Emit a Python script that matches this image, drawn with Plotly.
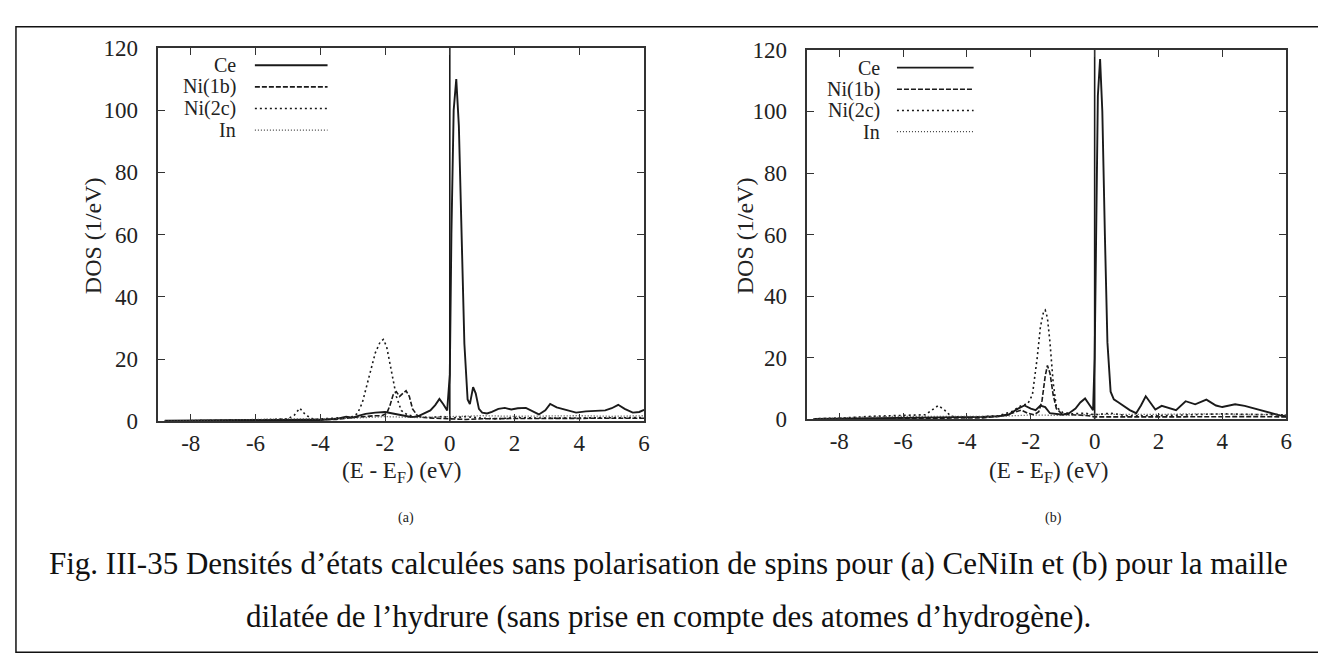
import plotly.graph_objects as go

W, H = 1326, 664

# ---------------- data: panel (a) CeNiIn ----------------
ce_a_E = [-8.8, -8, -7, -6, -5, -4.5, -4, -3.5, -3.2, -3.0, -2.8, -2.6, -2.3, -2.0, -1.8, -1.5,
          -1.2, -1.0, -0.8, -0.6, -0.45, -0.32, -0.2, -0.08, 0.0, 0.05, 0.12, 0.2, 0.28, 0.36,
          0.45, 0.55, 0.62, 0.72, 0.8, 0.9, 1.0, 1.15, 1.3, 1.5, 1.7, 1.9, 2.1, 2.35, 2.55,
          2.75, 2.95, 3.1, 3.3, 3.6, 3.9, 4.2, 4.5, 4.8, 5.0, 5.2, 5.4, 5.65, 5.85, 6.0]
ce_a_D = [0.2, 0.3, 0.4, 0.4, 0.5, 0.5, 0.4, 0.8, 1.5, 1.2, 1.8, 2.4, 2.8, 3.0, 2.6, 2.0,
          1.4, 1.5, 2.4, 3.5, 5.2, 7.2, 5.5, 3.5, 15, 60, 100, 110, 95, 60,
          25, 7, 5.5, 11, 9, 4, 2.8, 2.5, 3.0, 4.0, 4.3, 3.8, 4.2, 4.3, 3.2,
          2.2, 3.5, 5.6, 4.5, 3.7, 2.8, 3.2, 3.3, 3.5, 4.2, 5.3, 4.0, 2.8, 3.0, 3.7]

ni1b_a_E = [-8.8, -7, -5, -4, -3.5, -3.0, -2.7, -2.5, -2.3, -2.1, -1.95, -1.85, -1.75, -1.65,
            -1.55, -1.45, -1.35, -1.25, -1.15, -1.0, -0.8, -0.5, -0.2, 0, 0.5, 1, 2, 3, 4, 5, 6]
ni1b_a_D = [0.1, 0.2, 0.3, 0.4, 0.6, 1.2, 1.5, 1.6, 1.8, 1.8, 2.5, 5, 8.5, 9.5,
            8, 9, 9.8, 8, 4, 1.8, 1.2, 1.0, 1.0, 0.8, 0.6, 0.8, 0.9, 0.9, 0.9, 0.9, 1.0]

ni2c_a_E = [-8.8, -7, -6, -5.0, -4.8, -4.63, -4.45, -4.2, -3.8, -3.3, -3.0, -2.85, -2.7, -2.5,
            -2.3, -2.15, -2.05, -1.95, -1.8, -1.65, -1.5, -1.3, -1.0, -0.6, -0.2, 0, 0.5, 1,
            1.5, 2, 3, 4, 5, 6]
ni2c_a_D = [0.1, 0.3, 0.4, 0.8, 2.0, 4.2, 2.0, 0.6, 0.8, 1.2, 1.5, 2.5, 6, 14,
            22, 25.5, 26.3, 24, 16, 8, 3.5, 2.0, 1.5, 1.2, 1.6, 1.0, 1.5, 1.0,
            0.8, 1.2, 1.0, 1.1, 1.0, 1.2]

in_a_E = [-8.8, -8, -7, -6, -5, -4, -3, -2, -1, 0, 1, 2, 3, 4, 5, 6]
in_a_D = [0.1, 0.3, 0.5, 0.6, 0.8, 0.7, 1.0, 1.5, 1.2, 1.5, 1.8, 1.6, 1.7, 1.8, 1.6, 1.8]

# ---------------- data: panel (b) expanded hydride cell ----------------
ce_b_E = [-8.8, -8, -7, -6, -5, -4, -3.5, -3.0, -2.7, -2.4, -2.2, -2.0, -1.85, -1.7, -1.55,
          -1.4, -1.2, -1.0, -0.8, -0.6, -0.45, -0.3, -0.15, -0.05, 0.0, 0.05, 0.1, 0.17, 0.24,
          0.32, 0.4, 0.5, 0.6, 0.75, 0.9, 1.1, 1.3, 1.45, 1.6, 1.75, 1.9, 2.1, 2.3, 2.55,
          2.85, 3.15, 3.5, 3.8, 4.0, 4.4, 4.7, 5.0, 5.3, 5.6, 5.8, 6.0]
ce_b_D = [0.1, 0.2, 0.3, 0.4, 0.5, 0.5, 0.8, 1.0, 1.5, 3.5, 4.5, 3.5, 3.0, 4.5, 4.0,
          2.0, 1.8, 1.5, 2.0, 3.5, 5.5, 6.8, 4.5, 3.0, 20, 70, 105, 117, 100,
          60, 25, 9, 6.5, 5.5, 4.5, 3.0, 2.0, 4.5, 7.5, 5.5, 3.2, 4.4, 3.8, 3.0,
          5.9, 4.9, 6.4, 4.5, 4.0, 4.9, 4.4, 3.5, 2.8, 1.8, 1.3, 1.0]

ni1b_b_E = [-8.8, -7, -5, -4, -3.5, -3, -2.6, -2.3, -2.1, -1.9, -1.75, -1.65, -1.55, -1.48,
            -1.4, -1.3, -1.2, -1.05, -0.8, -0.5, -0.2, 0, 0.5, 1, 2, 3, 4, 5, 6]
ni1b_b_D = [0.1, 0.2, 0.3, 0.3, 0.5, 1.0, 2.0, 3.0, 2.0, 1.5, 2.5, 6, 14, 17.5,
            15, 8, 3.5, 2.0, 1.5, 1.4, 1.2, 0.8, 0.7, 0.8, 0.8, 0.9, 0.9, 0.9, 0.8]

ni2c_b_E = [-8.8, -7.8, -7, -6, -5.3, -5.1, -4.9, -4.7, -4.5, -4.0, -3.5, -3.0, -2.6, -2.3,
            -2.1, -1.95, -1.8, -1.7, -1.6, -1.55, -1.48, -1.4, -1.3, -1.2, -1.0, -0.7, -0.3,
            0, 0.5, 1, 2, 3, 4, 5, 6]
ni2c_b_D = [0.2, 0.5, 1.0, 1.2, 1.5, 3.0, 4.5, 3.0, 1.0, 0.6, 0.8, 1.2, 2.5, 4.5,
            5.0, 8, 20, 30, 35, 35.5, 33, 25, 12, 4, 2.2, 1.8, 2.0,
            1.5, 2.0, 1.2, 1.2, 1.6, 1.8, 1.6, 1.5]

in_b_E = [-8.8, -8, -7, -6, -5, -4, -3, -2, -1, 0, 1, 2, 3, 4, 5, 6]
in_b_D = [0.2, 0.5, 0.8, 1.0, 1.0, 0.8, 1.0, 1.4, 1.3, 1.6, 1.5, 1.6, 1.8, 1.8, 1.6, 1.5]

E_FERMI = 0.0
series_names = ["Ce", "Ni(1b)", "Ni(2c)", "In"]
x_ticks = [-8, -6, -4, -2, 0, 2, 4, 6]
x_tick_text = ["-8", "-6", "-4", "-2", "0", "2", "4", "6"]
y_ticks = [0, 20, 40, 60, 80, 100, 120]
y_tick_text = ["0", "20", "40", "60", "80", "100", "120"]
x_range = [-9, 6]
y_range = [0, 120]

caption_1 = "Fig. III-35 Densités d’états calculées sans polarisation de spins pour (a) CeNiIn et (b) pour la maille"
caption_2 = "dilatée de l’hydrure (sans prise en compte des atomes d’hydrogène)."

# ---------------- styles ----------------
FONT = "Liberation Serif"
styles = {
    "Ce": dict(color="#1a1a1a", width=1.9, dash="solid"),
    "Ni(1b)": dict(color="#1a1a1a", width=1.6, dash="5px,2px"),
    "Ni(2c)": dict(color="#1a1a1a", width=1.6, dash="2px,3px"),
    "In": dict(color="#444444", width=1.3, dash="1px,2px"),
}

panels = [
    dict(xa="x", ya="y",
         data=[(ce_a_E, ce_a_D), (ni1b_a_E, ni1b_a_D), (ni2c_a_E, ni2c_a_D), (in_a_E, in_a_D)]),
    dict(xa="x2", ya="y2",
         data=[(ce_b_E, ce_b_D), (ni1b_b_E, ni1b_b_D), (ni2c_b_E, ni2c_b_D), (in_b_E, in_b_D)]),
]

fig = go.Figure()
for p in panels:
    for name, (e, d) in zip(series_names, p["data"]):
        fig.add_trace(go.Scatter(x=e, y=d, mode="lines", name=name, xaxis=p["xa"], yaxis=p["ya"],
                                 line=styles[name], showlegend=False, hoverinfo="skip"))
    # Fermi level line
    fig.add_trace(go.Scatter(x=[E_FERMI, E_FERMI], y=y_range, mode="lines", xaxis=p["xa"], yaxis=p["ya"],
                             line=dict(color="#1a1a1a", width=1.6), showlegend=False, hoverinfo="skip"))

def px_x(v):
    return v / W

def px_y(v):
    return 1 - v / H

dom = {
    "a": dict(x=[px_x(151), px_x(639)], y=[px_y(417), px_y(29)]),
    "b": dict(x=[px_x(803), px_x(1284)], y=[px_y(415), px_y(31)]),
}

axis_common = dict(showgrid=False, zeroline=False, showline=True, mirror="ticks", linecolor="#333333",
                   linewidth=1.6, ticks="inside", ticklen=7, tickwidth=1.4, tickcolor="#333333",
                   tickfont=dict(family=FONT, size=23, color="#222222"))

fig.update_layout(
    width=W, height=H, margin=dict(l=0, r=0, t=0, b=0),
    paper_bgcolor="white", plot_bgcolor="white",
    font=dict(family=FONT),
    xaxis=dict(domain=dom["a"]["x"], range=x_range, tickvals=x_ticks, ticktext=x_tick_text,
               anchor="y", ticklabelstandoff=0, **axis_common),
    yaxis=dict(domain=dom["a"]["y"], range=y_range, tickvals=y_ticks, ticktext=y_tick_text,
               anchor="x", ticklabelstandoff=14, **axis_common),
    xaxis2=dict(domain=dom["b"]["x"], range=x_range, tickvals=x_ticks, ticktext=x_tick_text,
                anchor="y2", ticklabelstandoff=0, **axis_common),
    yaxis2=dict(domain=dom["b"]["y"], range=y_range, tickvals=y_ticks, ticktext=y_tick_text,
                anchor="x2", ticklabelstandoff=14, **axis_common),
)

annotations = []
shapes = []

legend_cfg = [
    dict(text_right=231, line_x0=248, line_x1=321, ys=[47, 69.5, 92, 114.5]),
    dict(text_right=878, line_x0=893, line_x1=970, ys=[49.5, 72, 94, 116]),
]
for cfg in legend_cfg:
    for name, yy in zip(series_names, cfg["ys"]):
        annotations.append(dict(xref="paper", yref="paper", x=px_x(cfg["text_right"]), y=px_y(yy),
                                xanchor="right", yanchor="middle", showarrow=False, text=name,
                                font=dict(family=FONT, size=20, color="#222222")))
        st = styles[name]
        shapes.append(dict(type="line", xref="paper", yref="paper", x0=px_x(cfg["line_x0"]),
                           x1=px_x(cfg["line_x1"]), y0=px_y(yy), y1=px_y(yy),
                           line=dict(color=st["color"], width=st["width"], dash=st["dash"])))

for cx, ytx, lab in [(395, 85, "(a)"), (1045, 740, "(b)")]:
    annotations.append(dict(xref="paper", yref="paper", x=px_x(cx), y=px_y(470), showarrow=False,
                            xanchor="center", yanchor="middle",
                            text="(E - E<sub>F</sub>) (eV)", font=dict(family=FONT, size=23, color="#222222")))
    annotations.append(dict(xref="paper", yref="paper", x=px_x(ytx), y=px_y(224), showarrow=False,
                            xanchor="center", yanchor="middle", textangle=-90,
                            text="DOS (1/eV)", font=dict(family=FONT, size=24, color="#222222")))
    annotations.append(dict(xref="paper", yref="paper", x=px_x(cx + 5), y=px_y(518), showarrow=False,
                            xanchor="center", yanchor="middle",
                            text=lab, font=dict(family=FONT, size=14, color="#222222")))

annotations.append(dict(xref="paper", yref="paper", x=0.5, y=px_y(565), showarrow=False,
                        xanchor="center", yanchor="middle", text=caption_1,
                        font=dict(family=FONT, size=31, color="#111111")))
annotations.append(dict(xref="paper", yref="paper", x=0.5, y=px_y(620), showarrow=False,
                        xanchor="center", yanchor="middle", text=caption_2,
                        font=dict(family=FONT, size=31, color="#111111")))

shapes.append(dict(type="rect", xref="paper", yref="paper", x0=px_x(8), x1=px_x(1321),
                   y0=px_y(657), y1=px_y(7), line=dict(color="#111111", width=1.5)))

fig.update_layout(annotations=annotations, shapes=shapes)
fig.write_html("out.html")
